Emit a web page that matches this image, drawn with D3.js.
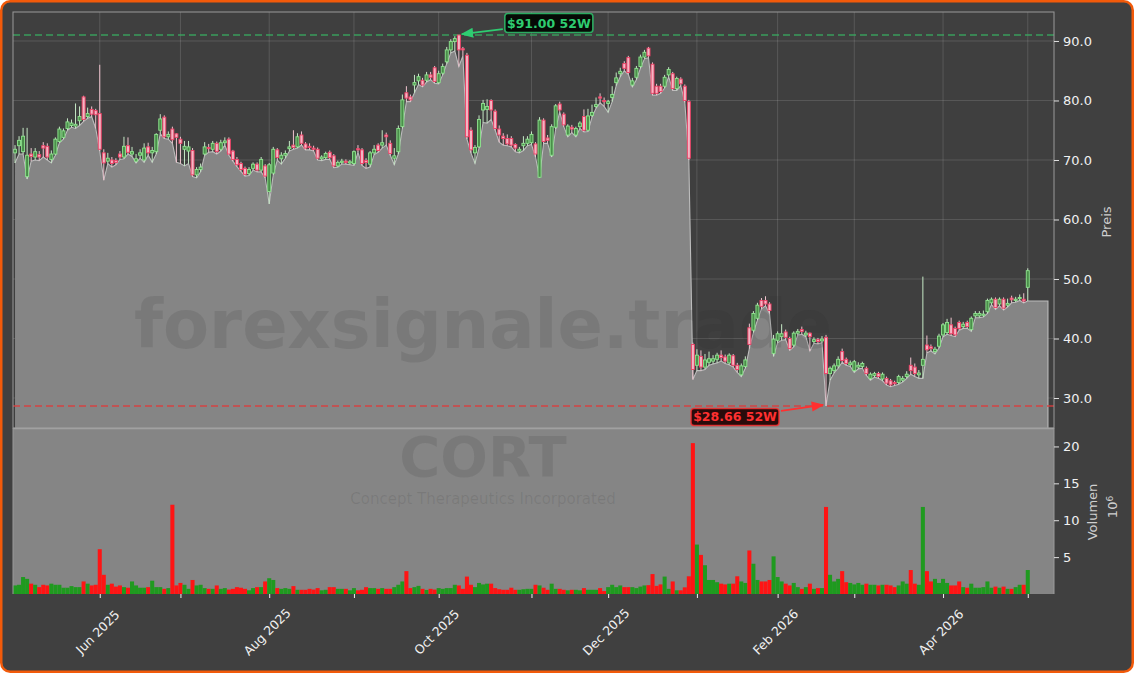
<!DOCTYPE html>
<html><head><meta charset="utf-8">
<script src="https://cdn.jsdelivr.net/npm/d3@7"></script>
<style>html,body{margin:0;padding:0;background:#fff;}svg{display:block;font-family:"DejaVu Sans",sans-serif;}</style>
</head><body><svg id="c" width="1134" height="673"></svg>
<script>
// [open, high, low, close] per trading day, May 1 2025 .. May 1 2026
const candles = [
[71.2,72.5,69.5,71.8],[72.4,74.0,71.0,73.3],[71.4,75.4,71.0,74.0],[67.2,75.4,66.8,70.8],[71.0,72.0,69.8,70.6],
[70.5,72.0,70.0,71.4],[70.9,71.5,69.9,70.5],[72.4,73.0,70.5,72.0],[72.3,72.8,70.0,70.5],[70.1,71.6,69.5,71.0],
[71.0,73.8,70.8,73.5],[73.1,75.6,72.9,75.2],[73.8,75.3,73.5,74.9],[75.3,77.0,75.0,76.4],[75.8,76.8,75.5,76.2],
[75.7,79.5,75.3,76.0],[76.6,79.0,75.8,77.3],[80.6,80.8,76.5,76.8],[77.3,78.8,77.0,77.8],[78.5,79.0,77.3,77.7],
[78.3,78.6,75.3,77.6],[77.8,86.0,71.5,71.8],[71.2,71.8,66.6,69.5],[69.8,71.2,69.4,70.3],[70.0,70.5,68.8,69.4],
[69.9,70.3,69.2,69.6],[71.0,71.5,70.1,70.5],[70.5,73.9,70.2,72.3],[72.4,73.8,71.0,71.3],[71.0,72.2,70.6,71.4],
[69.8,71.0,69.5,70.2],[70.8,71.8,70.3,71.2],[70.0,72.8,69.6,72.0],[72.2,72.9,70.8,71.2],[71.2,72.2,69.6,71.6],
[71.4,74.5,71.0,74.3],[75.0,77.7,74.4,76.9],[77.2,77.5,73.6,73.9],[73.9,74.8,73.5,74.3],[75.2,75.6,72.8,73.4],
[74.4,74.5,69.6,73.8],[73.5,73.9,69.4,72.8],[71.8,73.2,69.0,72.3],[71.5,73.2,69.4,72.2],[71.6,72.0,67.2,67.5],
[67.5,68.8,67.0,68.4],[68.4,69.4,68.0,68.8],[71.0,73.0,70.8,72.2],[72.1,72.7,71.3,71.9],[71.8,73.2,71.4,72.8],
[72.8,73.1,71.0,71.4],[71.8,73.4,71.5,72.9],[72.9,73.8,72.5,73.2],[73.5,73.8,70.8,71.0],[71.5,71.7,69.8,70.1],
[70.1,70.5,68.9,69.2],[69.4,69.7,68.1,68.4],[68.6,68.9,67.3,67.6],[67.7,68.8,67.4,68.4],[68.6,69.6,68.3,69.3],
[69.3,69.6,68.0,68.3],[68.3,70.5,68.0,70.1],[69.0,69.3,67.0,67.3],[64.7,69.5,62.6,69.2],[67.8,72.2,67.5,71.8],
[71.7,72.0,70.0,70.4],[70.2,71.3,69.3,70.8],[70.8,71.6,70.3,71.1],[71.9,73.2,71.5,72.2],[72.5,75.0,71.8,72.1],
[72.2,74.5,72.0,73.9],[74.2,74.8,72.5,72.8],[72.7,73.0,71.7,72.0],[72.3,72.8,71.7,72.1],[72.0,72.4,71.5,71.8],
[71.8,72.1,70.0,70.3],[70.2,70.8,69.9,70.5],[70.4,71.4,70.1,71.1],[71.3,71.6,70.1,70.4],[70.7,71.0,68.7,69.0],
[69.0,69.9,68.8,69.6],[69.6,70.2,69.3,69.8],[69.8,70.1,69.3,69.6],[69.5,70.0,69.2,69.7],[69.4,71.6,69.1,71.4],
[71.9,72.5,71.3,71.7],[71.7,72.0,69.1,69.4],[69.9,70.3,68.6,69.6],[69.3,71.5,68.8,71.2],[71.2,72.5,70.9,71.8],
[72.5,72.8,71.3,71.6],[72.5,75.0,72.0,72.9],[74.2,74.6,72.5,73.9],[72.8,73.3,70.8,71.1],[70.3,72.0,69.2,70.7],
[71.4,75.8,71.0,75.3],[75.6,81.0,75.3,80.1],[81.3,82.4,79.8,80.4],[80.6,81.0,79.8,80.1],[82.6,84.3,81.3,83.0],
[83.3,84.5,82.7,84.0],[83.4,83.8,82.3,82.6],[83.4,84.8,83.1,84.3],[84.3,84.8,83.5,83.9],[85.5,85.8,82.9,83.2],
[83.0,85.0,82.8,84.5],[84.6,86.2,84.3,85.7],[86.5,89.0,86.2,88.5],[88.5,90.3,88.0,89.9],[89.9,90.8,88.3,90.4],
[91.0,91.0,85.7,88.5],[88.7,89.0,87.5,88.5],[87.6,88.0,73.5,73.9],[75.0,75.5,71.2,71.7],[71.2,72.5,69.4,72.1],
[72.2,77.5,72.0,76.8],[78.4,80.1,76.3,79.5],[78.5,80.2,76.2,79.0],[80.0,80.2,76.8,78.4],[78.2,78.5,75.0,75.3],
[75.2,75.8,73.0,74.2],[74.0,74.5,72.5,73.6],[73.6,74.3,72.4,72.7],[73.6,74.0,72.2,72.5],[72.6,72.8,71.4,72.0],
[71.5,72.2,71.2,71.8],[72.4,74.0,71.6,72.8],[72.8,74.0,72.4,73.5],[72.9,74.8,72.6,74.3],[72.7,73.0,70.5,71.0],
[67.1,77.2,67.0,76.7],[76.7,77.0,72.8,73.1],[73.7,74.2,72.8,73.3],[70.8,76.0,70.5,75.6],[75.5,79.4,75.2,79.1],
[79.4,79.8,78.1,78.4],[77.7,78.0,75.6,75.9],[74.2,76.0,73.9,75.7],[75.5,75.9,74.6,75.2],[74.2,75.6,73.9,75.3],
[75.6,76.5,75.3,76.2],[77.3,78.5,74.7,75.0],[75.0,78.6,74.8,77.4],[77.5,79.3,77.2,78.0],[79.0,80.5,78.7,79.3],
[80.6,81.2,79.6,80.4],[80.0,80.5,79.0,79.8],[79.5,80.1,78.0,79.8],[80.5,82.4,79.8,81.0],[83.0,84.7,82.5,83.8],
[84.5,85.5,84.0,84.9],[86.2,86.6,85.0,85.4],[87.2,87.5,84.4,84.7],[82.6,83.8,82.3,83.3],[83.9,85.8,83.5,85.4],
[85.7,87.7,85.4,87.3],[87.3,88.5,87.0,88.1],[88.8,89.0,87.2,87.5],[86.1,86.4,80.9,81.2],[82.4,82.8,80.9,81.2],
[82.4,82.8,81.2,81.5],[82.4,84.3,82.1,83.9],[84.3,85.6,84.0,85.2],[84.5,84.8,81.7,82.0],[82.0,84.0,81.7,83.7],
[83.6,83.9,82.5,82.8],[82.4,82.7,79.7,80.0],[79.8,80.1,70.0,70.3],[39.0,39.3,33.1,34.8],[35.5,38.2,34.6,37.2],
[37.0,38.0,34.6,35.2],[35.2,37.4,34.8,36.4],[36.0,37.8,35.5,36.6],[36.2,37.2,35.7,36.6],[36.5,37.6,35.9,37.2],
[37.2,38.0,36.2,36.8],[36.9,37.3,35.8,36.2],[35.9,37.5,35.6,37.2],[37.1,37.4,35.2,35.5],[35.5,35.9,34.3,34.8],
[33.9,35.8,33.6,35.4],[35.3,37.0,35.0,36.4],[41.8,42.5,38.3,39.0],[41.4,44.6,41.0,44.2],[43.4,46.0,43.1,45.6],
[46.4,46.8,45.0,45.4],[46.4,47.1,45.5,45.8],[45.8,46.1,44.2,44.7],[37.5,40.6,37.0,39.9],[39.7,41.2,39.3,40.8],
[40.3,42.4,39.7,40.8],[41.1,41.5,39.8,40.2],[40.0,40.3,38.0,38.3],[38.9,41.2,38.6,40.9],[40.9,41.6,40.6,41.2],
[41.5,42.0,40.7,41.2],[40.6,41.3,40.3,40.9],[40.9,41.0,37.9,40.3],[39.5,40.2,39.2,39.8],[39.8,40.1,39.1,39.5],
[39.6,40.4,39.3,39.9],[40.2,40.6,28.66,34.1],[34.1,35.3,33.0,35.0],[34.6,35.8,34.2,35.4],[35.4,37.0,35.0,36.5],
[37.8,38.3,36.0,36.3],[36.5,36.8,35.5,35.8],[35.6,36.3,35.3,35.9],[34.6,36.4,34.3,36.1],[35.2,36.0,34.9,35.5],
[35.3,36.1,35.0,35.8],[35.0,35.3,33.8,34.1],[33.3,34.3,33.0,34.0],[33.8,34.4,33.5,34.1],[34.1,34.4,33.3,33.6],
[33.2,34.3,32.9,34.0],[33.3,33.6,32.2,32.5],[32.9,33.2,31.9,32.2],[32.6,32.9,32.1,32.4],[32.6,33.9,32.3,33.6],
[33.0,33.7,32.7,33.3],[33.6,34.5,33.3,34.0],[35.5,36.8,34.0,34.6],[35.2,35.8,33.6,34.1],[33.9,34.7,33.3,34.2],
[35.5,50.4,33.3,36.5],[38.9,40.5,37.6,38.1],[38.6,39.0,37.9,38.3],[37.8,38.6,37.4,38.2],[38.7,40.8,38.4,40.4],
[40.6,42.6,40.3,42.3],[41.0,43.3,40.7,42.7],[42.3,43.5,40.5,40.8],[41.7,42.0,40.3,40.6],[42.7,43.0,41.4,41.7],
[42.0,42.8,41.7,42.4],[42.7,43.0,41.7,42.0],[41.5,43.7,41.2,43.4],[43.8,44.6,43.5,44.2],[43.8,44.6,43.5,44.2],
[43.9,44.7,43.6,44.1],[44.5,46.7,44.2,46.4],[46.0,46.9,45.7,46.6],[46.6,46.9,44.9,45.2],[45.8,46.9,45.5,46.6],
[46.6,46.9,44.8,45.1],[45.6,46.7,45.3,45.9],[46.8,47.2,46.0,46.5],[46.4,47.0,46.1,46.6],[46.7,47.4,46.4,46.9],
[46.6,47.6,46.0,46.3],[48.6,51.8,46.3,51.4]
];
// volume in millions
const volume = [
1.16,1.25,2.3,2.05,1.4,1.25,0.93,1.25,1.16,1.4,
1.25,1.25,0.85,0.85,1.07,0.93,0.93,1.7,1.4,1.16,
1.25,6.07,2.6,1.25,1.4,1.0,1.16,0.93,0.85,1.7,
1.16,0.85,0.85,0.93,1.8,0.93,0.93,0.7,0.8,12.1,
1.16,1.5,1.25,0.7,1.9,1.16,1.25,0.8,0.7,0.7,
1.16,0.7,0.8,0.6,0.7,0.93,0.85,0.7,0.5,0.8,
0.93,0.93,1.7,2.14,1.9,0.8,0.7,0.8,0.7,1.07,
0.57,0.57,0.57,0.7,0.6,0.8,0.5,0.57,0.93,0.93,
0.7,0.7,0.7,0.5,0.8,0.5,0.57,0.93,0.8,0.8,
0.7,0.8,0.7,0.7,0.93,1.25,1.7,3.1,0.8,0.93,
1.1,0.7,0.55,0.7,0.6,0.8,0.7,0.8,0.8,1.25,
1.16,0.7,2.36,1.25,0.93,1.5,1.3,1.4,1.4,0.8,
0.65,0.57,0.57,0.85,0.57,0.57,0.65,0.7,0.7,1.25,
1.16,0.85,0.57,1.4,0.7,0.7,0.57,0.5,0.57,0.57,
0.5,0.8,0.57,0.57,0.57,0.8,0.4,0.93,1.25,0.93,
1.16,0.93,0.93,0.93,0.8,1.0,1.16,1.2,2.7,1.1,
1.3,2.36,0.7,1.7,0.5,0.5,0.9,2.4,20.45,6.7,
5.3,3.9,1.9,1.9,1.6,1.4,1.3,1.4,1.4,2.4,
1.7,1.5,5.9,4.1,1.9,1.7,1.7,1.9,5.1,2.3,
1.7,1.4,1.16,1.5,0.93,0.7,0.93,1.4,0.7,0.8,
0.8,11.8,2.6,1.7,2.05,3.1,1.6,1.5,1.3,1.5,
1.25,1.4,1.25,1.25,1.16,1.25,1.25,1.16,0.93,1.16,
1.7,1.4,3.25,1.4,1.25,11.8,3.1,1.7,2.05,1.5,
2.05,1.5,1.16,1.16,1.7,0.93,0.85,1.4,0.85,0.85,
0.93,1.7,0.85,1.0,0.85,1.0,0.7,0.7,0.93,1.25,
1.25,3.25
];
// first trading day of each month (index into candles)
const tickIdx = [21,41,63,84,105,128,147,169,189,208,230,251];
const tickLabels = ["Jun 2025","","Aug 2025","","Oct 2025","","Dec 2025","","Feb 2026","","Apr 2026",""];
const priceTicks = [30,40,50,60,70,80,90];
const volTicks = [5,10,15,20];
const high52 = 91.00, low52 = 28.66;
const high52Idx = 110, low52Idx = 201;
const areaEndIdx = 256;
const watermark = "forexsignale.trade", ticker = "CORT", company = "Concept Therapeutics Incorporated";

const W=1134,H=673, L=13,R=1054,PT=12,PB=428,VB=594;
const svg = d3.select("#c");
svg.append("rect").attr("x",1.25).attr("y",1.25).attr("width",W-2.5).attr("height",H-2.5)
  .attr("rx",9).attr("fill","#404040").attr("stroke","#f25a0a").attr("stroke-width",2.5);

const x = d3.scaleLinear().domain([-0.5,257.5]).range([L,R]);
const y = d3.scaleLinear().domain([24.96,94.87]).range([PB,PT]);
const yv = d3.scaleLinear().domain([0,22.5]).range([VB,PB]);

// price panel bg
svg.append("rect").attr("x",L).attr("y",PT).attr("width",R-L).attr("height",PB-PT).attr("fill","#3f3f3f");
// grid
const grid = svg.append("g").attr("stroke","#ffffff").attr("stroke-opacity",0.17).attr("stroke-width",0.8);
priceTicks.forEach(p=>grid.append("line").attr("x1",L).attr("x2",R).attr("y1",y(p)).attr("y2",y(p)));
tickIdx.forEach(i=>grid.append("line").attr("x1",x(i)).attr("x2",x(i)).attr("y1",PT).attr("y2",PB));

// area of lows
const lastLow = candles[candles.length-1][2];
const areaPts = candles.map((d,i)=>[i,d[2]]).concat([[areaEndIdx,lastLow]]);
svg.append("path").datum(areaPts)
  .attr("d", d3.area().x(d=>x(d[0])).y0(PB).y1(d=>y(d[1])))
  .attr("fill","#858585");
svg.append("path").datum(areaPts.concat([[areaEndIdx,null]]))
  .attr("d", d3.line().x(d=>x(d[0])).y(d=>d[1]===null?PB:y(d[1])))
  .attr("fill","none").attr("stroke","#bcbcbc").attr("stroke-width",1.1);

// volume panel bg
svg.append("rect").attr("x",L).attr("y",PB).attr("width",R-L).attr("height",VB-PB).attr("fill","#858585");
svg.append("line").attr("x1",L).attr("x2",R).attr("y1",PB+0.5).attr("y2",PB+0.5).attr("stroke","#a9a9a9").attr("stroke-width",1.5);

// watermark
const wm = svg.append("g").attr("fill","#2a2a2a").attr("fill-opacity",0.12).attr("text-anchor","middle");
wm.append("text").attr("x",483).attr("y",348).attr("font-size",67).attr("font-weight","bold").text(watermark);
wm.append("text").attr("x",483).attr("y",476).attr("font-size",56).attr("font-weight","bold").text(ticker);
wm.append("text").attr("x",483).attr("y",504).attr("font-size",15).text(company);

// 52W lines
svg.append("line").attr("x1",L).attr("x2",R).attr("y1",y(high52)).attr("y2",y(high52))
  .attr("stroke","#3aa860").attr("stroke-width",1.6).attr("stroke-dasharray","7,4").attr("opacity",0.9);
svg.append("line").attr("x1",L).attr("x2",R).attr("y1",y(low52)).attr("y2",y(low52))
  .attr("stroke","#dd3c3c").attr("stroke-width",1.6).attr("stroke-dasharray","7,4").attr("opacity",0.9);

// volume bars
const bw = x(1)-x(0);
svg.append("g").selectAll("rect").data(volume).join("rect")
  .attr("x",(v,i)=>x(i)-bw/2).attr("width",bw)
  .attr("y",v=>yv(v)).attr("height",v=>VB-yv(v))
  .attr("fill",(v,i)=>candles[i][3]>=candles[i][0]?"#1f9a1f":"#ff1414");

// candles
const cg = svg.append("g");
candles.forEach((d,i)=>{
  const up = d[3]>=d[0];
  cg.append("line").attr("x1",x(i)).attr("x2",x(i)).attr("y1",y(d[1])).attr("y2",y(d[2]))
    .attr("stroke",up?"#c6e9c6":"#f0c4cf").attr("stroke-width",1);
  const top = y(Math.max(d[0],d[3])), bot = y(Math.min(d[0],d[3]));
  cg.append("rect").attr("x",x(i)-1.5).attr("width",3).attr("y",top).attr("height",Math.max(1,bot-top))
    .attr("fill",up?"#4a8f4a":"#f3b6c4").attr("stroke",up?"#8fe58f":"#f03e64").attr("stroke-width",0.9);
});

// spines
svg.append("rect").attr("x",L).attr("y",PT).attr("width",R-L).attr("height",PB-PT).attr("fill","none").attr("stroke","#9a9a9a").attr("stroke-width",1);
svg.append("line").attr("x1",R).attr("x2",R).attr("y1",PB).attr("y2",VB).attr("stroke","#9a9a9a");
svg.append("line").attr("x1",L).attr("x2",L).attr("y1",PB).attr("y2",VB).attr("stroke","#9a9a9a");

// axes
function styleAxis(g, fs){
  g.select(".domain").remove();
  g.selectAll(".tick line").attr("stroke","#e0e0e0");
  g.selectAll(".tick text").attr("fill","#f0f0f0").attr("font-size",fs).attr("font-family","DejaVu Sans");
}
svg.append("g").attr("transform",`translate(${R},0)`)
  .call(d3.axisRight(y).tickValues(priceTicks).tickFormat(d3.format(".1f")).tickSize(5).tickPadding(4))
  .call(g=>styleAxis(g,13));
svg.append("g").attr("transform",`translate(${R},0)`)
  .call(d3.axisRight(yv).tickValues(volTicks).tickFormat(d3.format("d")).tickSize(5).tickPadding(4))
  .call(g=>styleAxis(g,13));
svg.append("g").attr("transform",`translate(0,${VB})`)
  .call(d3.axisBottom(x).tickValues(tickIdx).tickFormat("").tickSize(4))
  .call(g=>{g.select(".domain").remove(); g.selectAll(".tick line").attr("stroke","#f0f0f0");});
svg.append("g").selectAll("text").data(tickIdx.map((t,k)=>[t,tickLabels[k]]).filter(d=>d[1]))
  .join("text").attr("transform",d=>`translate(${x(d[0])-2},632) rotate(-45)`)
  .attr("text-anchor","middle").attr("dy","0.35em").attr("fill","#f0f0f0").attr("font-size",12.5).text(d=>d[1]);

// axis titles
function vtext(cx,cy,txt,fs){
  return svg.append("text").attr("transform",`translate(${cx},${cy}) rotate(-90)`).attr("text-anchor","middle")
    .attr("dy","0.35em").attr("fill","#cfcfcf").attr("font-size",fs).text(txt);
}
vtext(1106,222,"Preis",13);
vtext(1092,512,"Volumen",13);
const t6 = svg.append("text").attr("transform","translate(1112,507) rotate(-90)").attr("text-anchor","middle")
  .attr("dy","0.35em").attr("fill","#cfcfcf").attr("font-size",13);
t6.append("tspan").text("10");
t6.append("tspan").attr("dy","-0.45em").attr("font-size",9).text("6");

// annotations
const defs = svg.append("defs");
function marker(id,col){
  defs.append("marker").attr("id",id).attr("viewBox","0 0 10 10").attr("refX",9).attr("refY",5)
    .attr("markerWidth",7).attr("markerHeight",7).attr("orient","auto")
    .append("path").attr("d","M0,1 L10,5 L0,9 z").attr("fill",col);
}
marker("mg","#2ecc71"); marker("mr","#ff3030");
function annot(tx,ty,bx,by,bw,bh,sx,sy,txt,col,bg,mk){
  svg.append("line").attr("x1",sx).attr("y1",sy).attr("x2",tx).attr("y2",ty)
    .attr("stroke",col).attr("stroke-width",1.8).attr("marker-end",`url(#${mk})`);
  svg.append("rect").attr("x",bx).attr("y",by).attr("width",bw).attr("height",bh).attr("rx",3)
    .attr("fill",bg).attr("stroke",col).attr("stroke-width",1.6).attr("stroke-opacity",0.8);
  svg.append("text").attr("x",bx+bw/2).attr("y",by+bh/2).attr("dy","0.36em").attr("text-anchor","middle")
    .attr("font-weight","bold").attr("font-size",12.5).attr("fill",col).text(txt);
}
const hx = x(high52Idx), hy = y(high52);
annot(hx+3,hy-1, hx+46,hy-21.5,88,19, hx+44,hy-6, "$"+high52.toFixed(2)+" 52W","#2ecc71","#060a06","mg");
const lx = x(low52Idx), ly = y(low52);
annot(lx-3,ly-1, lx-135,ly+2.5,88,17, lx-45,ly+5, "$"+low52.toFixed(2)+" 52W","#ff3030","#2a0b0b","mr");
</script></body></html>
